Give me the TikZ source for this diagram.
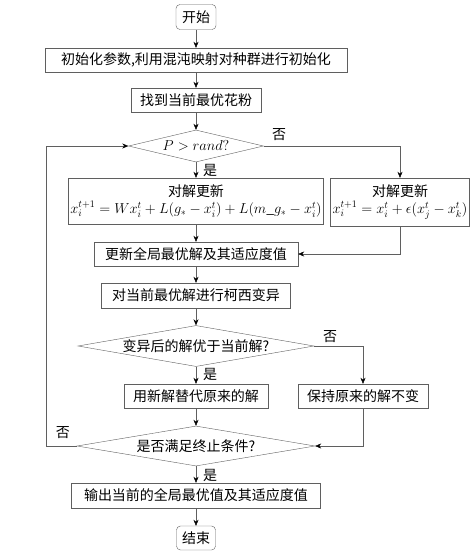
\documentclass[tikz,border=0pt]{standalone}
\usepackage{fontspec}
\setmainfont{Noto Sans CJK SC}
\usetikzlibrary{shapes.geometric,arrows.meta}

\definecolor{linegray}{RGB}{95,95,95}

\tikzset{
  proc/.style = {draw=linegray, rectangle, inner sep=2pt, minimum height=24pt,
                 font=\fontsize{14}{17}\selectfont, align=center},
  term/.style = {proc, rounded corners=4pt},
  decide/.style = {draw=linegray, diamond, inner sep=0pt,
                   font=\fontsize{14}{17}\selectfont},
  flow/.style = {draw=linegray, -{Stealth[length=6pt,width=5pt,black]}},
  tag/.style = {font=\fontsize{14}{17}\selectfont, inner sep=0pt}
}

\begin{document}
\begin{tikzpicture}[x=1pt,y=-1pt]

\def\mid{196}

\useasboundingbox (0,0) rectangle (473,558);

% main column
\node[term] (start) at (\mid,17) [minimum width=40pt, minimum height=25pt] {开始};
\node[proc] (init) at (\mid,60) [minimum width=302pt] {初始化参数,利用混沌映射对种群进行初始化};
\node[proc] (find) at (\mid,100) [minimum width=130pt] {找到当前最优花粉};
\node[decide] (ifp) at (\mid,146) [minimum width=135pt, minimum height=32pt, aspect=4.2] {$P>rand?$};
\node[proc] (updl) at (\mid,201) [minimum width=244pt, minimum height=46pt]
  {对解更新\\ $x_i^{t+1}=Wx_i^t+L(g_*-x_i^t)+L(m\_g_*-x_i^t)$};
\node[proc] (updr) at (400,202) [minimum width=135pt, minimum height=48pt]
  {对解更新\\ $x_i^{t+1}=x_i^t+\epsilon(x_j^t-x_k^t)$};
\node[proc] (glob) at (\mid,254) [minimum width=204pt] {更新全局最优解及其适应度值};
\node[proc] (cauchy) at (\mid,295.5) [minimum width=189pt, minimum height=25pt] {对当前最优解进行柯西变异};
\node[decide] (ifbet) at (\mid,346) [minimum width=236pt, minimum height=41pt, aspect=5.7] {变异后的解优于当前解?};
\node[proc] (repl) at (\mid,396) [minimum width=144pt] {用新解替代原来的解};
\node[proc] (keep) at (363,396) [minimum width=130pt] {保持原来的解不变};
\node[decide] (ifend) at (\mid,446) [minimum width=238pt, minimum height=40pt, aspect=5.9] {是否满足终止条件?};
\node[proc] (out) at (\mid,495.5) [minimum width=249pt, minimum height=25pt] {输出当前的全局最优值及其适应度值};
\node[term] (stop) at (\mid,538) [minimum width=39pt] {结束};

\coordinate (back) at (46,146);

% connectors
\draw[flow] (start) -- (init);
\draw[flow] (init) -- (find);
\draw[flow] (find) -- (ifp);
\draw[flow] (ifp) -- (updl);
\draw[flow] (ifp.east) -| (updr.north);
\draw[flow] (updl) -- (glob);
\draw[flow] (updr.south) |- (glob.east);
\draw[flow] (glob) -- (cauchy);
\draw[flow] (cauchy) -- (ifbet);
\draw[flow] (ifbet) -- (repl);
\draw[flow] (ifbet.east) -| (keep.north);
\draw[flow] (repl) -- (ifend);
\draw[flow] (keep.south) |- (ifend.east);
\draw[flow] (ifend.west) -- (ifend.west -| back) -- (back) -- (ifp.west);
\draw[flow] (ifend) -- (out);
\draw[flow] (out) -- (stop);

% labels
\node[tag] (y1) at (210,170) {是};
\node[tag] (n1) at (279,135) {否};
\node[tag] (y2) at (210,374) {是};
\node[tag] (n2) at (330,337) {否};
\node[tag] (y3) at (210,475) {是};
\node[tag] (n3) at (63,433) {否};

\end{tikzpicture}
\end{document}
